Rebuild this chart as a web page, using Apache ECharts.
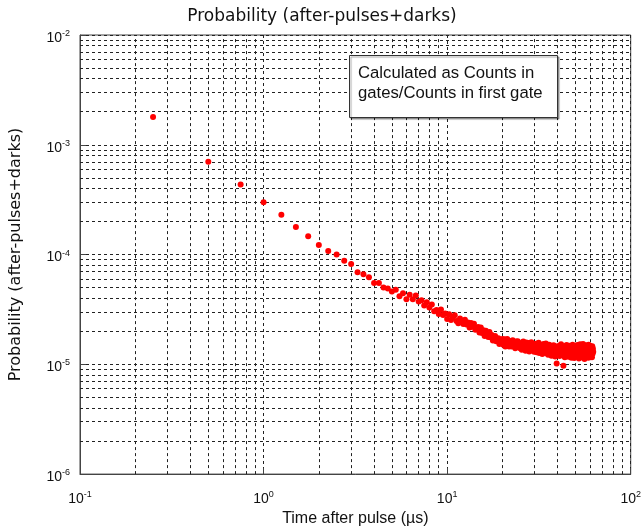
<!DOCTYPE html>
<html>
<head>
<meta charset="utf-8">
<script src="https://cdn.jsdelivr.net/npm/echarts@6/dist/echarts.min.js"></script>
<style>html,body{margin:0;padding:0;background:#fff}#c{width:644px;height:532px}</style>
</head>
<body>
<div id="c"></div>
<script>
// Gate times (µs)
const gateTimes = [
0.25,0.5,0.75,1,1.25,1.5,1.75,2,2.25,2.5,2.75,3,3.25,3.5,3.75,4,4.25,4.5,4.75,5,
5.25,5.5,5.75,6,6.25,6.5,6.75,7,7.25,7.5,7.75,8,8.25,8.5,8.75,9,9.25,9.5,9.75,10,
10.25,10.5,10.75,11,11.25,11.5,11.75,12,12.25,12.5,12.75,13,13.25,13.5,13.75,14,14.25,14.5,14.75,15,
15.25,15.5,15.75,16,16.25,16.5,16.75,17,17.25,17.5,17.75,18,18.25,18.5,18.75,19,19.25,19.5,19.75,20,
20.25,20.5,20.75,21,21.25,21.5,21.75,22,22.25,22.5,22.75,23,23.25,23.5,23.75,24,24.25,24.5,24.75,25,
25.25,25.5,25.75,26,26.25,26.5,26.75,27,27.25,27.5,27.75,28,28.25,28.5,28.75,29,29.25,29.5,29.75,30,
30.25,30.5,30.75,31,31.25,31.5,31.75,32,32.25,32.5,32.75,33,33.25,33.5,33.75,34,34.25,34.5,34.75,35,
35.25,35.5,35.75,36,36.25,36.5,36.75,37,37.25,37.5,37.75,38,38.25,38.5,38.75,39,39.25,39.5,39.75,40,
40.25,40.5,40.75,41,41.25,41.5,41.75,42,42.25,42.5,42.75,43,43.25,43.5,43.75,44,44.25,44.5,44.75,45,
45.25,45.5,45.75,46,46.25,46.5,46.75,47,47.25,47.5,47.75,48,48.25,48.5,48.75,49,49.25,49.5,49.75,50,
50.25,50.5,50.75,51,51.25,51.5,51.75,52,52.25,52.5,52.75,53,53.25,53.5,53.75,54,54.25,54.5,54.75,55,
55.25,55.5,55.75,56,56.25,56.5,56.75,57,57.25,57.5,57.75,58,58.25,58.5,58.75,59,59.25,59.5,59.75,60,
60.25,60.5,60.75,61,61.25,61.5,61.75,62,62.25,62.5
];
// Probability (after-pulses + darks)
const probability = [
1.79e-3,7.0e-4,4.35e-4,3.0e-4,2.3e-4,1.78e-4,1.47e-4,1.22e-4,1.08e-4,1.0e-4,
8.8e-5,8.2e-5,6.9e-5,6.6e-5,6.2e-5,5.5e-5,5.5e-5,5.0e-5,4.9e-5,4.6e-5,
4.77e-5,4.18e-5,4.43e-5,3.91e-5,4.31e-5,3.92e-5,4.23e-5,3.74e-5,3.83e-5,3.43e-5,
3.68e-5,3.30e-5,3.50e-5,3.04e-5,3.13e-5,2.88e-5,3.16e-5,2.82e-5,2.91e-5,2.59e-5,
2.86e-5,2.53e-5,2.70e-5,2.80e-5,2.48e-5,2.37e-5,2.62e-5,2.50e-5,2.33e-5,2.55e-5,
2.30e-5,2.40e-5,2.16e-5,2.38e-5,2.20e-5,2.34e-5,2.07e-5,2.13e-5,2.19e-5,1.95e-5,
2.16e-5,1.93e-5,2.04e-5,1.81e-5,2.02e-5,1.91e-5,1.77e-5,1.97e-5,1.76e-5,1.85e-5,
1.65e-5,1.76e-5,1.81e-5,1.62e-5,1.65e-5,1.73e-5,1.53e-5,1.67e-5,1.58e-5,1.70e-5,
1.51e-5,1.69e-5,1.45e-5,1.62e-5,1.70e-5,1.51e-5,1.45e-5,1.63e-5,1.57e-5,1.45e-5,
1.66e-5,1.47e-5,1.56e-5,1.40e-5,1.61e-5,1.48e-5,1.62e-5,1.43e-5,1.56e-5,1.40e-5,
1.55e-5,1.36e-5,1.50e-5,1.61e-5,1.39e-5,1.47e-5,1.33e-5,1.58e-5,1.44e-5,1.37e-5,
1.56e-5,1.31e-5,1.49e-5,1.41e-5,1.59e-5,1.34e-5,1.46e-5,1.52e-5,1.30e-5,1.45e-5,
1.38e-5,1.54e-5,1.29e-5,1.45e-5,1.36e-5,1.57e-5,1.27e-5,1.41e-5,1.50e-5,1.32e-5,
1.47e-5,1.24e-5,1.39e-5,1.53e-5,1.30e-5,1.43e-5,1.35e-5,1.55e-5,1.26e-5,1.40e-5,
1.48e-5,1.22e-5,1.37e-5,1.51e-5,1.29e-5,1.44e-5,1.33e-5,1.20e-5,1.46e-5,1.35e-5,
1.27e-5,1.49e-5,1.31e-5,1.42e-5,1.18e-5,1.38e-5,1.45e-5,1.02e-5,1.30e-5,1.40e-5,
1.25e-5,1.47e-5,1.33e-5,1.19e-5,1.41e-5,1.28e-5,1.52e-5,1.23e-5,1.36e-5,1.44e-5,
1.21e-5,0.97e-5,1.39e-5,1.30e-5,1.16e-5,1.46e-5,1.27e-5,1.35e-5,1.50e-5,1.22e-5,
1.31e-5,1.43e-5,1.17e-5,1.37e-5,1.26e-5,1.48e-5,1.20e-5,1.34e-5,1.42e-5,1.15e-5,
1.38e-5,1.29e-5,1.51e-5,1.24e-5,1.33e-5,1.45e-5,1.14e-5,1.40e-5,1.28e-5,1.36e-5,
1.19e-5,1.43e-5,1.31e-5,1.25e-5,1.50e-5,1.22e-5,1.37e-5,1.46e-5,1.13e-5,1.34e-5,
1.28e-5,1.52e-5,1.21e-5,1.39e-5,1.30e-5,1.16e-5,1.44e-5,1.26e-5,1.35e-5,1.53e-5,
1.20e-5,1.41e-5,1.29e-5,1.12e-5,1.47e-5,1.33e-5,1.24e-5,1.49e-5,1.18e-5,1.38e-5,
1.31e-5,1.45e-5,1.23e-5,1.36e-5,1.15e-5,1.51e-5,1.27e-5,1.40e-5,1.21e-5,1.48e-5,
1.32e-5,1.19e-5,1.43e-5,1.28e-5,1.37e-5,1.16e-5,1.46e-5,1.25e-5,1.39e-5,1.30e-5
];
// Axis ranges and minor grid positions
const xRange = [0.1, 100];
const yRange = [1e-6, 1e-2];
const xMinorGrid = [0.2,0.3,0.4,0.5,0.6,0.7,0.8,0.9,2,3,4,5,6,7,8,9,20,30,40,50,60,70,80,90];
const yMinorGrid = [2e-6,3e-6,4e-6,5e-6,6e-6,7e-6,8e-6,9e-6,2e-5,3e-5,4e-5,5e-5,6e-5,7e-5,8e-5,9e-5,
  2e-4,3e-4,4e-4,5e-4,6e-4,7e-4,8e-4,9e-4,2e-3,3e-3,4e-3,5e-3,6e-3,7e-3,8e-3,9e-3];

const titleText = 'Probability (after-pulses+darks)';
const xName = 'Time after pulse (µs)';
const yName = 'Probability (after-pulses+darks)';
const noteLines = ['Calculated as Counts in', 'gates/Counts in first gate'];

const gridStyle = {color: '#222', width: 1, type: [3, 3]};
const tickFont = 'Liberation Sans, Arial, sans-serif';
const titleFont = 'DejaVu Sans, sans-serif';
function powLabel(v) {
  const e = Math.round(Math.log10(v));
  return '{b|10}{s|' + e + '}';
}
const richLabel = {
  b: {fontSize: 14, fontFamily: tickFont, color: '#111'},
  s: {fontSize: 9, fontFamily: tickFont, color: '#111', padding: [0, 0, 9, 0]}
};

const pts = gateTimes.map((t, i) => [t, probability[i]]);
const minorLines = xMinorGrid.map(v => [{coord: [v, yRange[0]]}, {coord: [v, yRange[1]]}])
  .concat(yMinorGrid.map(v => [{coord: [xRange[0], v]}, {coord: [xRange[1], v]}]));

const chart = echarts.init(document.getElementById('c'));
chart.setOption({
  animation: false,
  backgroundColor: '#fff',
  title: {
    text: titleText, left: 'center', top: 3,
    textStyle: {fontFamily: titleFont, fontWeight: 'normal', fontSize: 17, color: '#111'}
  },
  grid: {left: 79, right: 11, top: 35, bottom: 53, show: true, borderColor: '#444', borderWidth: 1},
  xAxis: {
    type: 'log', logBase: 10, min: xRange[0], max: xRange[1],
    name: xName, nameLocation: 'middle', nameGap: 33,
    nameTextStyle: {fontFamily: tickFont, fontSize: 16, color: '#111'},
    axisLine: {show: true, lineStyle: {color: '#444'}},
    axisTick: {show: true, inside: true, length: 6, lineStyle: {color: '#444'}},
    axisLabel: {formatter: powLabel, rich: richLabel, margin: 16},
    splitLine: {show: true, lineStyle: gridStyle}
  },
  yAxis: {
    type: 'log', logBase: 10, min: yRange[0], max: yRange[1],
    name: yName, nameLocation: 'middle', nameGap: 56,
    nameTextStyle: {fontFamily: titleFont, fontSize: 16, color: '#111'},
    axisLine: {show: true, lineStyle: {color: '#444'}},
    axisTick: {show: true, inside: true, length: 6, lineStyle: {color: '#444'}},
    axisLabel: {formatter: powLabel, rich: richLabel, margin: 10, padding: [6, 0, 0, 0]},
    splitLine: {show: true, lineStyle: gridStyle}
  },
  series: [
    {
      type: 'scatter', data: pts, symbol: 'circle', symbolSize: 6,
      itemStyle: {color: '#ff0000', opacity: 1}, z: 5,
      markLine: {
        silent: true, symbol: 'none', label: {show: false}, z: 1,
        lineStyle: gridStyle,
        emphasis: {disabled: true},
        data: minorLines
      }
    }
  ],
  graphic: [
    {
      type: 'rect', left: 349, top: 55, z: 100,
      shape: {width: 208, height: 62},
      style: {fill: '#fff', stroke: '#333', lineWidth: 1, shadowColor: 'rgba(0,0,0,0.35)', shadowOffsetX: 1.5, shadowOffsetY: 1.5, shadowBlur: 1}
    },
    {
      type: 'text', left: 358, top: 63, z: 101,
      style: {text: noteLines.join('\n'), fontFamily: tickFont, fontSize: 16.7, lineHeight: 20, fill: '#111'}
    }
  ]
});
</script>
</body>
</html>
